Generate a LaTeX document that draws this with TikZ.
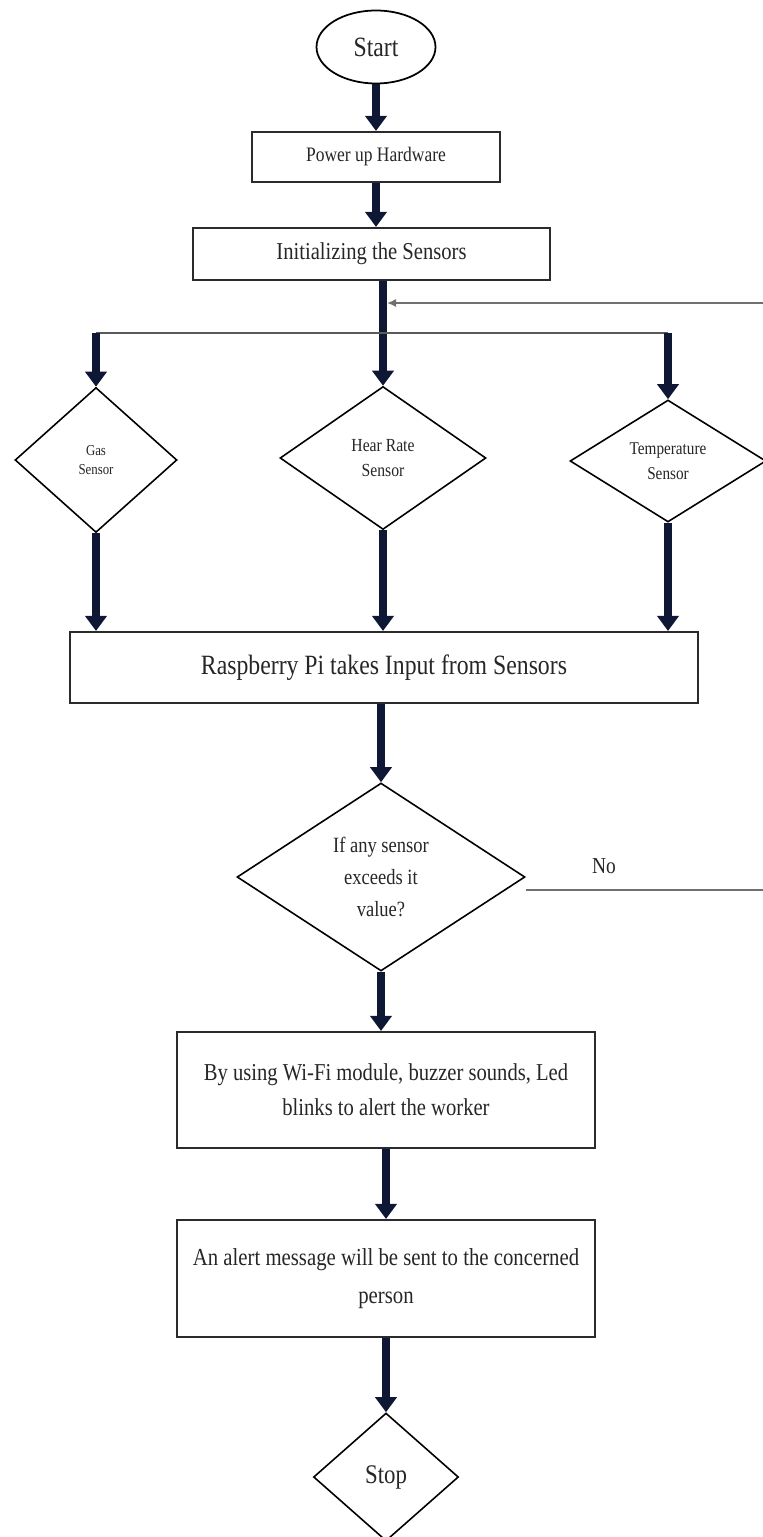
\documentclass[tikz,border=0pt]{standalone}
\usepackage{fontspec}
\setmainfont{Liberation Serif}[FakeStretch=0.85]
\usetikzlibrary{arrows.meta,positioning,shapes.geometric}
\definecolor{arrownavy}{HTML}{0E1733}
\definecolor{boxline}{HTML}{2B2B2B}
\definecolor{linegray}{HTML}{707070}
\definecolor{labeltext}{HTML}{262626}

\begin{document}
\begin{tikzpicture}[x=0.02cm, y=-0.02cm,
    procbox/.style={draw=boxline, line width=1.2pt, rectangle, inner sep=0pt, align=center, text=labeltext},
    decision/.style={draw=black, line width=0.9pt, diamond, inner sep=0pt, aspect=1.5, align=center, text=labeltext},
    flow/.style={line width=4.6pt, draw=arrownavy, -{Triangle[length=0.3cm,width=0.42cm]}},
    thinline/.style={draw=linegray, line width=0.8pt}]
    \useasboundingbox (0,0) rectangle (763,1537);

    % Start and set-up
    \node[ellipse, draw=black, line width=1pt, minimum width=2.38cm, minimum height=1.46cm, inner sep=0pt,
          text=labeltext, font=\fontsize{15.9}{18}\selectfont] (start) at (376,47) {Start};
    \node[procbox, minimum width=4.96cm, minimum height=1.0cm, font=\fontsize{11.7}{14}\selectfont] (power) at (376,157) {Power up Hardware};
    \node[procbox, minimum width=7.14cm, minimum height=1.04cm, font=\fontsize{13.8}{16}\selectfont] (init) at (371.5,254) {Initializing the Sensors};

    % Sensors
    \node[decision, minimum width=3.24cm, minimum height=2.9cm, font=\fontsize{8.6}{11}\selectfont] (gas) at (96,460) {Gas\\Sensor};
    \node[decision, minimum width=4.12cm, minimum height=2.86cm, font=\fontsize{10.5}{14}\selectfont] (heart) at (383,458) {Hear Rate\\Sensor};
    \node[decision, minimum width=3.92cm, minimum height=2.44cm, font=\fontsize{10.2}{14}\selectfont] (temp) at (668,461) {Temperature\\Sensor};

    % Processing
    \node[procbox, minimum width=12.56cm, minimum height=1.42cm, font=\fontsize{15.9}{18}\selectfont] (rasp) at (384,667.5) {Raspberry Pi takes Input from Sensors};
    \node[decision, minimum width=5.76cm, minimum height=3.76cm, font=\fontsize{12.4}{18}\selectfont] (check) at (381,877) {If any sensor\\exceeds it\\value?};
    \node[procbox, minimum width=8.36cm, minimum height=2.32cm, font=\fontsize{13.8}{20}\selectfont] (wifi) at (386,1090) {By using Wi-Fi module, buzzer sounds, Led\\blinks to alert the worker};
    \node[procbox, minimum width=8.36cm, minimum height=2.34cm, font=\fontsize{13.9}{21.5}\selectfont] (alert) at (386,1278.5) {An alert message will be sent to the concerned\\person};
    \node[decision, aspect=1, minimum width=2.9cm, minimum height=2.56cm, font=\fontsize{15.3}{18}\selectfont] (stop) at (386,1477) {Stop};

    % Loose ends of the loop lines
    \coordinate (branch) at (381,333);
    \coordinate (loopin) at (763,303);
    \coordinate (noend) at (763,890);
    \node[text=labeltext, font=\fontsize{13}{15}\selectfont] (nolabel) at (604,866) {No};

    % Connectors
    \draw[flow] (start) -- (power);
    \draw[flow] (power.south) -- (power.south |- init.north);
    \draw[flow] (init.south -| heart.north) -- (heart.north);
    \draw[draw=linegray!80!black, line width=1.6pt] (gas.north |- branch) -- (temp.north |- branch);
    \foreach \s in {gas,temp} {
        \draw[flow] (\s.north |- branch) -- (\s.north);
    }
    \draw[thinline, -{Latex[length=1.8mm,width=1.6mm]}, shorten >=2.3pt] (loopin) -- (loopin -| heart.north);
    \foreach \s in {gas,heart,temp} {
        \draw[flow] (\s.south) -- (\s.south |- rasp.north);
    }
    \draw[flow] (check.north |- rasp.south) -- (check.north);
    \draw[flow] (check.south) -- (check.south |- wifi.north);
    \draw[flow] (wifi) -- (alert);
    \draw[flow] (alert) -- (stop);
    \draw[thinline] (check.east |- noend) -- (noend);
\end{tikzpicture}
\end{document}
